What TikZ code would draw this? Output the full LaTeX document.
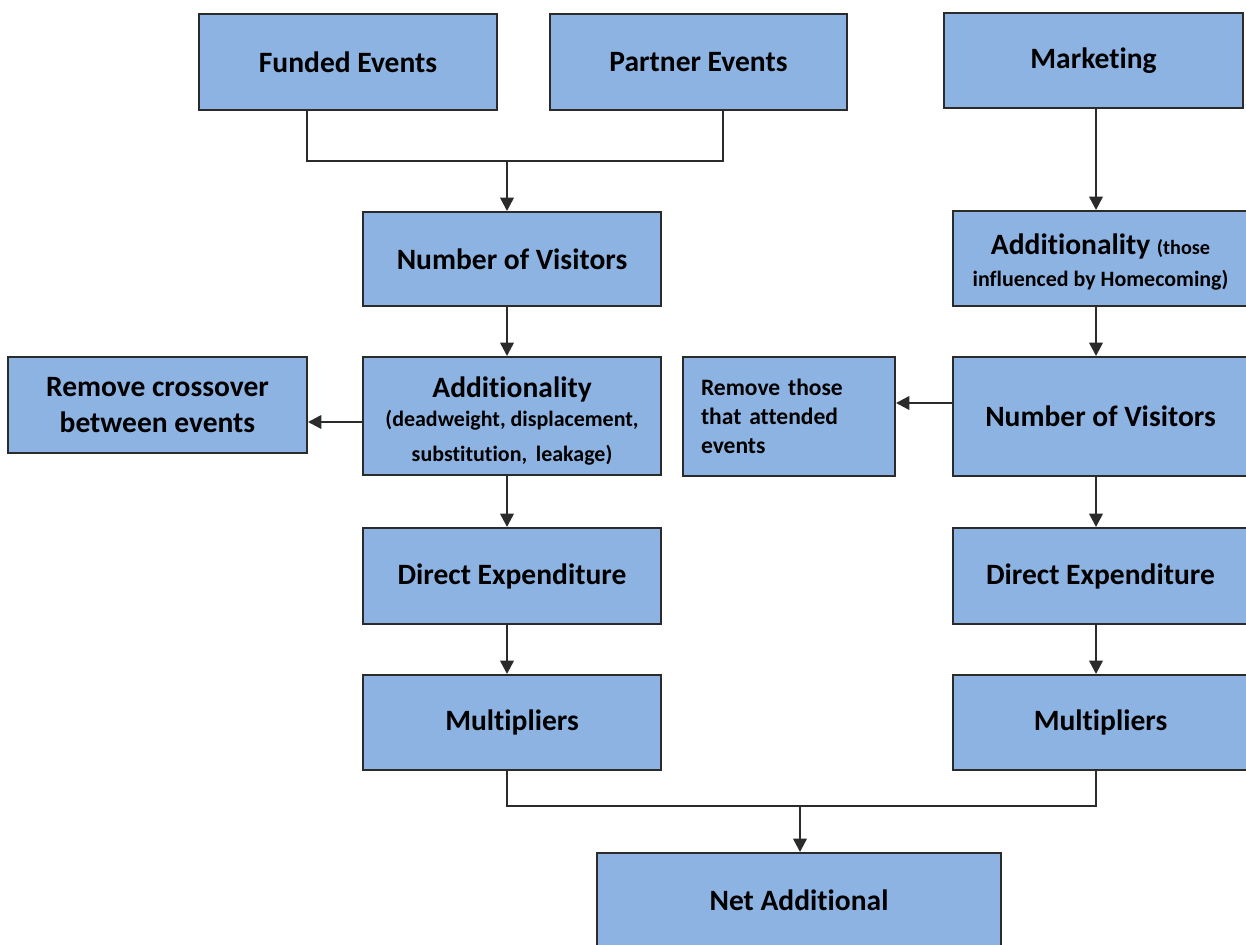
\documentclass[tikz,border=0pt]{standalone}
\usepackage{fontspec}
\setmainfont[Ligatures={NoCommon}]{Carlito}
\usetikzlibrary{arrows.meta}
\definecolor{boxfill}{HTML}{8DB3E2}
\definecolor{boxline}{HTML}{2B2B2B}
\tikzset{
  box/.style 2 args={draw=boxline, line width=1.1pt, fill=boxfill, align=center,
    inner sep=0pt, font=\bfseries\fontsize{16.8}{20}\selectfont,
    minimum width=#1*0.02cm, minimum height=#2*0.02cm},
  conn/.style={draw=boxline, line width=1.4pt},
  arr/.style={conn, -{Triangle[length=0.27cm,width=0.27cm]}},
}
\begin{document}
\begin{tikzpicture}[x=0.02cm,y=-0.02cm]
\useasboundingbox (0,0) rectangle (1246,945);
\node[box={298}{96}] (fe) at (348,62) {Funded Events};
\node[box={297}{96}] (pe) at (698.5,62) {Partner Events};
\node[box={299}{95}] (mk) at (1093.5,60.5) {Marketing};
\node[box={298}{94}] (nvl) at (512,259) {Number of Visitors};
\node[box={295}{95}] (adr) at (1100.5,258.5) {\rule{0pt}{16pt}Additionality {\fontsize{11.5}{14}\selectfont(those}\\[-2pt]{\fontsize{12.5}{16}\selectfont influenced by Homecoming)}};
\node[box={299}{96}] (rc) at (157.5,405) {Remove crossover\\[0pt] between events};
\node[box={298}{118}] (adl) at (512,416) {\rule{0pt}{17pt}Additionality\\[-3.5pt]{\fontsize{12.5}{15}\selectfont (deadweight, displacement,}\\{\fontsize{12.5}{15}\selectfont substitution,\, leakage)}};
\node[box={212}{119}, align=left, text width=3.52cm, font=\bfseries\fontsize{13.4}{16.5}\selectfont] (rt) at (789,416.5) {Remove those\\that attended\\events};
\node[box={295}{119}] (nvr) at (1100.5,416.5) {Number of Visitors};
\node[box={298}{96}] (del) at (512,576) {Direct Expenditure};
\node[box={295}{96}] (der) at (1100.5,576) {Direct Expenditure};
\node[box={298}{95}] (mul) at (512,722.5) {Multipliers};
\node[box={295}{95}] (mur) at (1100.5,722.5) {Multipliers};
\node[box={404}{95}] (na) at (799,900.5) {Net Additional};
\coordinate (jt) at (507,161);
\coordinate (xr) at (1096,0);
\coordinate (jb) at (800,806);
\draw[conn] ([xshift=-0.82cm]fe.south) |- (jt) -| ([xshift=0.49cm]pe.south);
\draw[arr] (jt) -- (jt |- nvl.north);
\draw[arr] (nvl.south -| jt) -- (adl.north -| jt);
\draw[arr] ([yshift=-0.12cm]adl.west) -- ([yshift=-0.12cm]adl.west -| rc.east);
\draw[arr] (adl.south -| jt) -- (del.north -| jt);
\draw[arr] (del.south -| jt) -- (mul.north -| jt);
\draw[arr] (mk.south -| xr) -- (adr.north -| xr);
\draw[arr] (adr.south -| xr) -- (nvr.north -| xr);
\draw[arr] ([yshift=0.27cm]nvr.west) -- ([yshift=0.27cm]nvr.west -| rt.east);
\draw[arr] (nvr.south -| xr) -- (der.north -| xr);
\draw[arr] (der.south -| xr) -- (mur.north -| xr);
\draw[conn] (mul.south -| jt) |- (jb) -| (mur.south -| xr);
\draw[arr] (jb) -- (na.north -| jb);
\end{tikzpicture}
\end{document}
